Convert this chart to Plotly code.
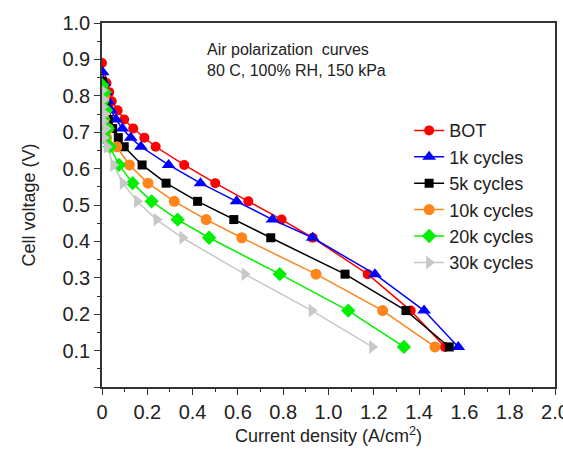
import plotly.graph_objects as go

# ---- data ----
names = ["BOT", "1k cycles", "5k cycles", "10k cycles", "20k cycles", "30k cycles"]

bot_x = [0.0, 0.02, 0.032, 0.043, 0.069, 0.098, 0.138, 0.187, 0.237, 0.363, 0.50, 0.646, 0.793, 0.93, 1.173, 1.363, 1.514]
bot_y = [0.89, 0.835, 0.81, 0.785, 0.76, 0.735, 0.71, 0.685, 0.66, 0.61, 0.56, 0.51, 0.46, 0.41, 0.31, 0.21, 0.11]

k1_x = [0.003, 0.01, 0.018, 0.028, 0.04, 0.062, 0.09, 0.127, 0.172, 0.294, 0.435, 0.594, 0.753, 0.93, 1.205, 1.422, 1.573]
k1_y = [0.865, 0.835, 0.81, 0.785, 0.76, 0.735, 0.71, 0.685, 0.66, 0.61, 0.56, 0.51, 0.46, 0.41, 0.31, 0.21, 0.11]

k5_x = [0.002, 0.008, 0.014, 0.02, 0.028, 0.047, 0.072, 0.098, 0.177, 0.283, 0.422, 0.582, 0.745, 1.073, 1.342, 1.533]
k5_y = [0.84, 0.81, 0.785, 0.76, 0.735, 0.71, 0.685, 0.66, 0.61, 0.56, 0.51, 0.46, 0.41, 0.31, 0.21, 0.11]

k10_x = [0.0, 0.012, 0.004, 0.018, 0.01, 0.028, 0.02, 0.065, 0.121, 0.203, 0.319, 0.46, 0.617, 0.945, 1.239, 1.47]
k10_y = [0.825, 0.80, 0.785, 0.76, 0.735, 0.71, 0.685, 0.66, 0.61, 0.56, 0.51, 0.46, 0.41, 0.31, 0.21, 0.11]

k20_x = [0.0, 0.012, 0.003, 0.018, 0.006, 0.025, 0.01, 0.035, 0.075, 0.135, 0.219, 0.334, 0.473, 0.785, 1.087, 1.333]
k20_y = [0.83, 0.81, 0.785, 0.76, 0.735, 0.71, 0.685, 0.66, 0.61, 0.56, 0.51, 0.46, 0.41, 0.31, 0.21, 0.11]

k30_x = [0.0, 0.008, 0.002, 0.012, 0.004, 0.016, 0.008, 0.022, 0.05, 0.092, 0.155, 0.241, 0.355, 0.63, 0.926, 1.193]
k30_y = [0.815, 0.79, 0.77, 0.75, 0.73, 0.71, 0.685, 0.66, 0.61, 0.56, 0.51, 0.46, 0.41, 0.31, 0.21, 0.11]

x_tickvals = [0, 0.2, 0.4, 0.6, 0.8, 1.0, 1.2, 1.4, 1.6, 1.8, 2.0]
x_ticktext = ["0", "0.2", "0.4", "0.6", "0.8", "1.0", "1.2", "1.4", "1.6", "1.8", "2.0"]
y_tickvals = [0.0, 0.1, 0.2, 0.3, 0.4, 0.5, 0.6, 0.7, 0.8, 0.9, 1.0]
y_ticktext = ["", "0.1", "0.2", "0.3", "0.4", "0.5", "0.6", "0.7", "0.8", "0.9", "1.0"]

colors = ["#ff0000", "#0000ff", "#000000", "#ff8419", "#00f000", "#c8c8c8"]
symbols = ["circle", "triangle-up", "square", "circle", "diamond", "triangle-right"]
sizes = [10, 12, 9, 11, 11, 12]

series = [(bot_x, bot_y), (k1_x, k1_y), (k5_x, k5_y), (k10_x, k10_y), (k20_x, k20_y), (k30_x, k30_y)]

FONT = "Liberation Sans, Arial, sans-serif"
TXT = "#222222"

fig = go.Figure()
for (xs, ys), nm, c, s, sz in zip(series, names, colors, symbols, sizes):
    fig.add_trace(go.Scatter(
        x=xs, y=ys, name=nm, mode="lines+markers",
        line=dict(color=c, width=1.5),
        marker=dict(color=c, symbol=s, size=sz, line=dict(width=0)),
    ))

fig.update_layout(
    width=563, height=453,
    margin=dict(l=102, r=8, t=23, b=66),
    paper_bgcolor="white", plot_bgcolor="white",
    font=dict(family=FONT, size=19, color=TXT),
    showlegend=True,
    legend=dict(x=0.678, y=0.755, xanchor="left", yanchor="top",
                font=dict(size=18, color=TXT), bgcolor="rgba(0,0,0,0)",
                tracegroupgap=0, itemwidth=30),
    annotations=[dict(
        x=0.455, y=0.955, xref="x", yref="y", xanchor="left", yanchor="top",
        text="Air polarization  curves<br>80 C, 100% RH, 150 kPa",
        showarrow=False, align="left", font=dict(size=16, color=TXT),
    )],
)
fig.update_xaxes(
    range=[0, 2.0], tickvals=x_tickvals, ticktext=x_ticktext,
    automargin=False, ticklabeloverflow="allow",
    tickfont=dict(size=20, color=TXT),
    showline=True, linecolor="#333333", linewidth=1.5, mirror=True,
    ticks="outside", ticklen=6, tickwidth=1.2, tickcolor="#333333",
    minor=dict(ticks="outside", ticklen=3, tickwidth=1.2, tickcolor="#333333", dtick=0.1),
    showgrid=False, zeroline=False,
    title=dict(text="Current density (A/cm<sup>2</sup>)", font=dict(size=18, color=TXT), standoff=8),
)
fig.update_yaxes(
    range=[0, 1.0], tickvals=y_tickvals, ticktext=y_ticktext,
    automargin=False, ticklabeloverflow="allow",
    tickfont=dict(size=20, color=TXT),
    showline=True, linecolor="#333333", linewidth=1.5, mirror=True,
    ticks="outside", ticklen=6, tickwidth=1.2, tickcolor="#333333",
    minor=dict(ticks="outside", ticklen=3, tickwidth=1.2, tickcolor="#333333", dtick=0.05),
    showgrid=False, zeroline=False,
    title=dict(text="Cell voltage (V)", font=dict(size=18, color=TXT), standoff=22),
)

fig.write_html(
    "out.html",
    config={"displayModeBar": False},
    post_script="document.body.style.margin='0';document.body.style.overflow='hidden';",
)
